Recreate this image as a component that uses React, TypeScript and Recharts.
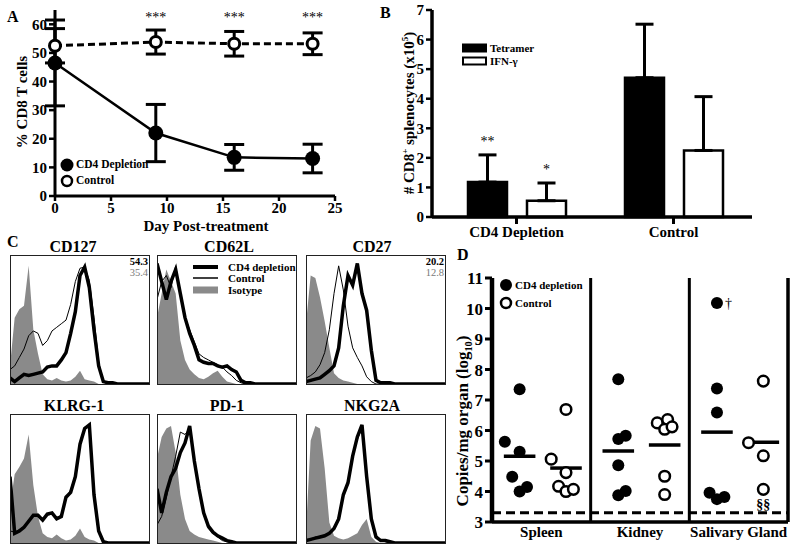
import React from "react";
import {
  ComposedChart,
  Line,
  Area,
  XAxis,
  YAxis,
  ErrorBar,
  ReferenceDot,
  BarChart,
  Bar,
  LabelList,
  ScatterChart,
  Scatter,
  ReferenceLine,
} from "recharts";

const FONT = '"Liberation Serif", "Times New Roman", Times, serif';

// ---------- A: % CD8 T cells after treatment
const days = [0, 9, 16, 23];
const cd4Pct = [46.5, 22, 13.5, 13.1];
const cd4Sem = [15, 10, 4.5, 5];
const ctrlPct = [52.5, 53.8, 53.2, 53.2];
const ctrlSem = [6, 4.2, 4.3, 3.8];
const sigA = ["", "***", "***", "***"];
const SIG_LEVEL_A = 62.5;

// ---------- B: CD8+ splenocytes (x10^5)
const groupsB = ["CD4 Depletion", "Control"];
const tetramer = [1.18, 4.71];
const tetramerErr = [0.92, 1.81];
const ifng = [0.55, 2.25];
const ifngErr = [0.6, 1.82];
const sigTet = ["**", ""];
const sigIfn = ["*", ""];

// ---------- C: histograms, % of max per bin (31 bins, log scale)
const cd127Iso = [15, 55, 62, 65, 98, 45, 25, 8, 4, 3, 5, 3, 2, 3, 6, 11, 4, 3, 2, 0, 0, 0, 0, 0, 0, 0, 0, 0, 0, 0, 0];
const cd127Ctrl = [12, 15, 22, 29, 40, 44, 42, 32, 36, 44, 47, 50, 53, 66, 85, 96, 97, 86, 55, 18, 2, 0, 0, 0, 0, 0, 0, 0, 0, 0, 0];
const cd127Cd4 = [5, 2, 5, 8, 7, 8, 9, 10, 14, 15, 15, 20, 26, 42, 60, 90, 97, 80, 45, 15, 2, 1, 1, 0, 0, 0, 0, 0, 0, 0, 0];

const cd62lIso = [55, 75, 95, 85, 75, 36, 20, 12, 8, 5, 4, 6, 9, 11, 6, 2, 1, 0, 0, 0, 0, 0, 0, 0, 0, 0, 0, 0, 0, 0, 0];
const cd62lCtrl = [70, 85, 90, 80, 98, 75, 55, 45, 35, 25, 22, 20, 18, 16, 14, 10, 7, 3, 1, 0, 0, 0, 0, 0, 0, 0, 0, 0, 0, 0, 0];
const cd62lCd4 = [100, 85, 70, 85, 95, 75, 55, 42, 32, 20, 18, 17, 17, 15, 14, 15, 12, 10, 3, 1, 1, 0, 0, 0, 0, 0, 0, 0, 0, 0, 0];

const cd27Iso = [50, 90, 88, 72, 52, 30, 9, 5, 3, 2, 1, 0, 0, 0, 0, 0, 0, 0, 0, 0, 0, 0, 0, 0, 0, 0, 0, 0, 0, 0, 0];
const cd27Ctrl = [5, 7, 10, 16, 26, 45, 75, 98, 78, 48, 30, 22, 15, 6, 2, 0, 0, 0, 0, 0, 0, 0, 0, 0, 0, 0, 0, 0, 0, 0, 0];
const cd27Cd4 = [2, 3, 4, 5, 8, 11, 15, 30, 65, 90, 82, 100, 75, 61, 28, 3, 1, 1, 1, 0, 0, 0, 0, 0, 0, 0, 0, 0, 0, 0, 0];

const klrgIso = [30, 57, 63, 70, 90, 48, 22, 8, 5, 4, 7, 4, 2, 3, 6, 12, 5, 3, 2, 0, 0, 0, 0, 0, 0, 0, 0, 0, 0, 0, 0];
const klrgCtrl = [10, 9, 11, 14, 19, 22, 24, 20, 23, 24, 21, 23, 37, 44, 57, 84, 96, 97, 42, 11, 1, 0, 0, 0, 0, 0, 0, 0, 0, 0, 0];
const klrgCd4 = [55, 8, 10, 13, 18, 23, 23, 19, 24, 25, 20, 22, 38, 42, 55, 82, 95, 98, 40, 10, 1, 0, 0, 0, 0, 0, 0, 0, 0, 0, 0];

const pd1Iso = [70, 88, 95, 97, 75, 40, 20, 10, 7, 5, 4, 3, 2, 1, 0, 0, 0, 0, 0, 0, 0, 0, 0, 0, 0, 0, 0, 0, 0, 0, 0];
const pd1Ctrl = [15, 22, 38, 55, 72, 92, 90, 95, 70, 45, 25, 12, 8, 5, 2, 1, 0, 0, 0, 0, 0, 0, 0, 0, 0, 0, 0, 0, 0, 0, 0];
const pd1Cd4 = [45, 25, 42, 55, 62, 75, 83, 97, 68, 45, 25, 14, 9, 6, 4, 2, 1, 0, 0, 0, 0, 0, 0, 0, 0, 0, 0, 0, 0, 0, 0];

const nkgIso = [10, 85, 97, 95, 62, 17, 6, 4, 3, 4, 6, 8, 15, 20, 5, 1, 0, 0, 0, 0, 0, 0, 0, 0, 0, 0, 0, 0, 0, 0, 0];
const nkgCtrl = [2, 3, 5, 5, 6, 9, 12, 22, 40, 52, 74, 86, 95, 52, 18, 4, 2, 1, 0, 0, 0, 0, 0, 0, 0, 0, 0, 0, 0, 0, 0];
const nkgCd4 = [2, 3, 4, 5, 6, 8, 12, 20, 40, 50, 72, 88, 98, 55, 20, 5, 2, 2, 1, 0, 0, 0, 0, 0, 0, 0, 0, 0, 0, 0, 0];

// ---------- D: viral copies / mg organ (log10)
const organs = ["Spleen", "Kidney", "Salivary Gland"];
const spleenCd4 = [5.63, 7.35, 5.3, 4.48, 4.0, 4.15];
const spleenCtrl = [5.06, 6.69, 4.62, 4.17, 4.0, 4.07];
const kidneyCd4 = [7.68, 5.72, 5.83, 4.86, 3.88, 4.02];
const kidneyCtrl = [6.25, 6.36, 6.04, 6.12, 4.5, 3.9];
const sgCd4 = [10.18, 7.38, 6.59, 3.96, 3.75, 3.82];
const sgCtrl = [5.6, 7.62, 5.17, 4.07];
// side-by-side slots for overlapping dots
const spleenCd4Slot = [-2, 0, 0, -1, 0, 1];
const spleenCtrlSlot = [-2, 0, 0, -1, 0, 1];
const kidneyCd4Slot = [0, 0, 1, 0, 0, 1];
const kidneyCtrlSlot = [-1, 0.4, 0, 1, 0, 0];
const sgCd4Slot = [0, 0, 0, -1, 0, 1];
const sgCtrlSlot = [-2, 0, 0, 0];
const sgCd4Note = ["†", "", "", "", "", ""];
const LOD = 3.3;

const tk = (size: number, weight = 700) => ({ fill: "#000", fontSize: size, fontWeight: weight, fontFamily: FONT });
const ln = (w: number) => ({ stroke: "#000", strokeWidth: w });

function Txt({ x, y, size, children, color = "#000", weight = 700, align = "left" }: any) {
  const tx = align === "center" ? "translateX(-50%)" : align === "right" ? "translateX(-100%)" : undefined;
  return (
    <div style={{ position: "absolute", left: x, top: y, fontSize: size, fontWeight: weight, color, lineHeight: 1, whiteSpace: "nowrap", transform: tx }}>
      {children}
    </div>
  );
}

function VTxt({ cx, cy, size, children }: any) {
  return (
    <div style={{ position: "absolute", left: cx, top: cy, fontSize: size, fontWeight: 700, lineHeight: 1, whiteSpace: "nowrap", transform: "translate(-50%,-50%) rotate(-90deg)" }}>
      {children}
    </div>
  );
}

function LegendRow({ x, y, h, iconW, gap, icon, label, size }: any) {
  return (
    <div style={{ position: "absolute", left: x, top: y, height: h, display: "flex", alignItems: "center", fontSize: size, fontWeight: 700, lineHeight: 1, whiteSpace: "nowrap" }}>
      <svg width={iconW} height={h} style={{ display: "block" }}>{icon(iconW, h)}</svg>
      <span style={{ marginLeft: gap }}>{label}</span>
    </div>
  );
}

const filledDot = (r: number) => (p: any) => <circle key={`f${p.index}`} cx={p.cx} cy={p.cy} r={r} fill="#000" />;
const openDot = (r: number, sw: number) => (p: any) => (
  <circle key={`o${p.index}`} cx={p.cx} cy={p.cy} r={r} fill="#fff" stroke="#000" strokeWidth={sw} strokeDasharray="none" />
);

function PanelA() {
  const data = days.map((d, i) => ({
    day: d,
    cd4: cd4Pct[i],
    cd4Err: [cd4Sem[i], cd4Sem[i]],
    ctrl: ctrlPct[i],
    ctrlErr: [ctrlSem[i], ctrlSem[i]],
  }));
  return (
    <ComposedChart width={345} height={240} data={data} margin={{ top: 10, right: 10, left: 0, bottom: 0 }}>
      <XAxis dataKey="day" type="number" domain={[0, 25]} ticks={[0, 5, 10, 15, 20, 25]} interval={0} height={44}
        tick={tk(15)} tickSize={5} tickMargin={1} axisLine={ln(3)} tickLine={ln(2.5)} />
      <YAxis type="number" domain={[0, 65]} ticks={[0, 10, 20, 30, 40, 50, 60]} interval={0} width={55}
        tick={tk(15)} tickSize={6} tickMargin={2} axisLine={ln(3)} tickLine={ln(2.5)} />
      <Line type="linear" dataKey="ctrl" stroke="#000" strokeWidth={3} strokeDasharray="7 4" dot={openDot(5.5, 3)} isAnimationActive={false}>
        <ErrorBar dataKey="ctrlErr" width={10} stroke="#000" strokeWidth={3} />
      </Line>
      <Line type="linear" dataKey="cd4" stroke="#000" strokeWidth={2.5} dot={filledDot(7.5)} isAnimationActive={false}>
        <ErrorBar dataKey="cd4Err" width={10} stroke="#000" strokeWidth={3} />
      </Line>
      {days.map((d, i) =>
        sigA[i] ? (
          <ReferenceDot key={d} x={d} y={SIG_LEVEL_A} r={0} fill="none" stroke="none"
            label={{ value: sigA[i], position: "center", fill: "#000", fontSize: 14, fontFamily: FONT }} />
        ) : null
      )}
    </ComposedChart>
  );
}

const sigLabel = (vals: number[], errs: number[]) => (props: any) => {
  const vb = props.viewBox ?? props;
  const { x, y, width, height } = vb;
  const idx = props.index ?? 0;
  if (!props.value) return null;
  const pxPerUnit = height / vals[idx];
  const top = y - errs[idx] * pxPerUnit;
  return (
    <text x={x + width / 2} y={top - 9} textAnchor="middle" fontSize={14} fontFamily={FONT} fill="#000">
      {props.value}
    </text>
  );
};

function PanelB() {
  const data = groupsB.map((g, i) => ({
    group: g,
    tet: tetramer[i],
    tetErr: [0, tetramerErr[i]],
    tetSig: sigTet[i],
    ifn: ifng[i],
    ifnErr: [0, ifngErr[i]],
    ifnSig: sigIfn[i],
  }));
  return (
    <BarChart width={380} height={250} data={data} margin={{ top: 10, right: 8, left: 0, bottom: 0 }} barGap={20}>
      <XAxis dataKey="group" height={33} padding={{ left: 6, right: 0 }} tick={tk(15)} tickSize={7} tickMargin={2}
        axisLine={ln(3.5)} tickLine={ln(3)} interval={0} />
      <YAxis type="number" domain={[0, 7]} ticks={[0, 1, 2, 3, 4, 5, 6, 7]} interval={0} width={52}
        tick={tk(15)} tickSize={6} tickMargin={2} axisLine={ln(3.5)} tickLine={ln(2.5)} />
      <Bar dataKey="tet" fill="#000" stroke="#000" strokeWidth={2.5} barSize={39} isAnimationActive={false}>
        <ErrorBar dataKey="tetErr" width={9} stroke="#000" strokeWidth={3} />
        <LabelList dataKey="tetSig" content={sigLabel(tetramer, tetramerErr)} />
      </Bar>
      <Bar dataKey="ifn" fill="#fff" stroke="#000" strokeWidth={2.5} barSize={39} isAnimationActive={false}>
        <ErrorBar dataKey="ifnErr" width={9} stroke="#000" strokeWidth={3} />
        <LabelList dataKey="ifnSig" content={sigLabel(ifng, ifngErr)} />
      </Bar>
    </BarChart>
  );
}

const BINS = Array.from({ length: 31 }, (_, i) => i);
const DECADE = 7.5;
const logTicks: number[] = [];
for (let d = 0; d < 4; d++) for (let k = 1; k <= 9; k++) logTicks.push(d * DECADE + Math.log10(k) * DECADE);
logTicks.push(30);

function Histo({ iso, ctrl, cd4, left, top }: any) {
  const rows = BINS.map((i) => ({ i, iso: iso[i], ctrl: ctrl[i], cd4: cd4[i] }));
  return (
    <div style={{ position: "absolute", left, top, width: 140, height: 130 }}>
      <ComposedChart width={140} height={130} data={rows} margin={{ top: 0, right: 0, bottom: 1, left: 0 }}>
        <XAxis dataKey="i" type="number" domain={[0, 30]} ticks={logTicks} interval={0} tick={false} tickSize={3}
          mirror height={0} axisLine={false} tickLine={ln(0.8)} />
        <YAxis type="number" domain={[0, 107]} ticks={[10, 20, 30, 40, 50, 60, 70, 80, 90, 100]} interval={0}
          tick={false} tickSize={3} mirror width={0} axisLine={false} tickLine={ln(0.8)} />
        <Area type="linear" dataKey="iso" stroke="none" fill="#8a8a8a" fillOpacity={1} isAnimationActive={false} />
        <Line type="linear" dataKey="ctrl" stroke="#000" strokeWidth={1} dot={false} isAnimationActive={false} />
        <Line type="linear" dataKey="cd4" stroke="#000" strokeWidth={3.5} dot={false} isAnimationActive={false} />
      </ComposedChart>
      <div style={{ position: "absolute", left: 0, top: 0, width: 140, height: 130, border: "1px solid #222", boxSizing: "border-box", pointerEvents: "none" }} />
    </div>
  );
}

const CD4_POS = 0.28;
const CTRL_POS = 0.75;
const JIT = 0.075;
const MEAN_HALF = 0.16;

function PanelD() {
  const cd4Sets = [
    [spleenCd4, spleenCd4Slot],
    [kidneyCd4, kidneyCd4Slot],
    [sgCd4, sgCd4Slot],
  ] as const;
  const ctrlSets = [
    [spleenCtrl, spleenCtrlSlot],
    [kidneyCtrl, kidneyCtrlSlot],
    [sgCtrl, sgCtrlSlot],
  ] as const;
  const cd4Pts = cd4Sets.flatMap(([vals, slots], g) =>
    vals.map((v, k) => ({ x: g + CD4_POS + slots[k] * JIT, y: v, note: g === 2 ? sgCd4Note[k] : "" }))
  );
  const ctrlPts = ctrlSets.flatMap(([vals, slots], g) => vals.map((v, k) => ({ x: g + CTRL_POS + slots[k] * JIT, y: v })));
  const notes = cd4Pts.filter((p) => p.note);
  const mean = (a: readonly number[]) => a.reduce((s, v) => s + v, 0) / a.length;
  const means = [
    ...cd4Sets.map(([vals], g) => ({ c: g + CD4_POS, m: mean(vals) })),
    ...ctrlSets.map(([vals], g) => ({ c: g + CTRL_POS, m: mean(vals) })),
  ];
  return (
    <ScatterChart width={395} height={290} margin={{ top: 18, right: 7, left: 0, bottom: 0 }}>
      <XAxis dataKey="x" type="number" domain={[0, 3]} ticks={[0.5, 1.5, 2.5]} interval={0}
        tickFormatter={(v: number) => organs[Math.floor(v)]} height={28} tick={tk(15)} tickSize={2} tickMargin={2}
        axisLine={ln(3.5)} tickLine={false} />
      <YAxis dataKey="y" type="number" domain={[3, 11]} ticks={[3, 4, 5, 6, 7, 8, 9, 10, 11]} interval={0} width={92}
        tick={tk(17)} tickSize={7} tickMargin={2} axisLine={ln(4.5)} tickLine={ln(3)} />
      <ReferenceLine x={1} stroke="#000" strokeWidth={3} />
      <ReferenceLine x={2} stroke="#000" strokeWidth={3} />
      <ReferenceLine x={3} stroke="#000" strokeWidth={3.5} />
      <ReferenceLine y={LOD} stroke="#000" strokeWidth={3} strokeDasharray="9 5" />
      {means.map((m, i) => (
        <ReferenceLine key={i} segment={[{ x: m.c - MEAN_HALF, y: m.m }, { x: m.c + MEAN_HALF, y: m.m }]} stroke="#000" strokeWidth={3.5} />
      ))}
      <Scatter data={cd4Pts} isAnimationActive={false} fill="#000" shape={(p: any) => <circle cx={p.cx} cy={p.cy} r={6} fill="#000" />} />
      <Scatter data={ctrlPts} isAnimationActive={false} fill="#fff"
        shape={(p: any) => <circle cx={p.cx} cy={p.cy} r={5.3} fill="#fff" stroke="#000" strokeWidth={2.5} />} />
      {notes.map((p, i) => (
        <ReferenceDot key={`n${i}`} x={p.x} y={p.y} r={0} fill="none" stroke="none"
          label={{ value: p.note, position: "right", offset: 8, fill: "#000", fontSize: 14, fontFamily: FONT }} />
      ))}
      <ReferenceDot x={2 + CTRL_POS} y={3.58} r={0} fill="none" stroke="none"
        label={{ value: "§§", position: "center", fill: "#000", fontSize: 14, fontWeight: 700, fontFamily: FONT }} />
    </ScatterChart>
  );
}

export default function App() {
  const histTop = 255;
  const histBot = 414;
  return (
    <div style={{ position: "absolute", left: 0, top: 0, width: 800, height: 554, background: "#fff", fontFamily: FONT, color: "#000", overflow: "hidden" }}>
      {/* A */}
      <div style={{ position: "absolute", left: 0, top: 0 }}><PanelA /></div>
      <Txt x={7} y={9} size={16}>A</Txt>
      <VTxt cx={22} cy={102} size={15}>% CD8 T cells</VTxt>
      <Txt x={206} y={219} size={15} align="center">Day Post-treatment</Txt>
      <LegendRow x={59} y={157} h={16} iconW={16} gap={1} size={11.5} label="CD4 Depletion"
        icon={(w: number, h: number) => <circle cx={w / 2} cy={h / 2} r={6.5} fill="#000" />} />
      <LegendRow x={59} y={173} h={16} iconW={16} gap={1} size={11.5} label="Control"
        icon={(w: number, h: number) => <circle cx={w / 2} cy={h / 2} r={5} fill="#fff" stroke="#000" strokeWidth={2.5} />} />

      {/* B */}
      <div style={{ position: "absolute", left: 380, top: 0 }}><PanelB /></div>
      <Txt x={380} y={5} size={16}>B</Txt>
      <VTxt cx={409} cy={113} size={15}>
        # CD8<sup style={{ fontSize: "0.6em" }}>+</sup> splenocytes (x10<sup style={{ fontSize: "0.6em" }}>5</sup>)
      </VTxt>
      <LegendRow x={462} y={41} h={14} iconW={25} gap={3} size={11} label="Tetramer"
        icon={(w: number, h: number) => <rect x={0} y={h / 2 - 4.5} width={w} height={9} fill="#000" />} />
      <LegendRow x={462} y={54} h={14} iconW={25} gap={3} size={11} label="IFN-γ"
        icon={(w: number, h: number) => <rect x={1} y={h / 2 - 3.5} width={w - 2} height={7} fill="#fff" stroke="#000" strokeWidth={2} />} />

      {/* C */}
      <Txt x={7} y={234} size={16}>C</Txt>
      <Histo iso={cd127Iso} ctrl={cd127Ctrl} cd4={cd127Cd4} left={10} top={histTop} />
      <Histo iso={cd62lIso} ctrl={cd62lCtrl} cd4={cd62lCd4} left={157} top={histTop} />
      <Histo iso={cd27Iso} ctrl={cd27Ctrl} cd4={cd27Cd4} left={306} top={histTop} />
      <Histo iso={klrgIso} ctrl={klrgCtrl} cd4={klrgCd4} left={10} top={histBot} />
      <Histo iso={pd1Iso} ctrl={pd1Ctrl} cd4={pd1Cd4} left={157} top={histBot} />
      <Histo iso={nkgIso} ctrl={nkgCtrl} cd4={nkgCd4} left={306} top={histBot} />
      <Txt x={73} y={239} size={16} align="center">CD127</Txt>
      <Txt x={229} y={239} size={16} align="center">CD62L</Txt>
      <Txt x={372} y={239} size={16} align="center">CD27</Txt>
      <Txt x={74} y={398} size={16} align="center">KLRG-1</Txt>
      <Txt x={227} y={398} size={16} align="center">PD-1</Txt>
      <Txt x={372} y={398} size={16} align="center">NKG2A</Txt>
      <Txt x={148} y={257} size={10.5} align="right">54.3</Txt>
      <Txt x={148} y={268} size={10.5} align="right" weight={400} color="#7a7a7a">35.4</Txt>
      <Txt x={444} y={257} size={10.5} align="right">20.2</Txt>
      <Txt x={444} y={268} size={10.5} align="right" weight={400} color="#7a7a7a">12.8</Txt>
      <LegendRow x={193} y={261} h={12} iconW={25} gap={10} size={11} label="CD4 depletion"
        icon={(w: number, h: number) => <line x1={0} x2={w} y1={h / 2} y2={h / 2} stroke="#000" strokeWidth={4} />} />
      <LegendRow x={193} y={272} h={12} iconW={25} gap={10} size={11} label="Control"
        icon={(w: number, h: number) => <line x1={0} x2={w} y1={h / 2} y2={h / 2} stroke="#000" strokeWidth={1.5} />} />
      <LegendRow x={193} y={284} h={12} iconW={25} gap={10} size={11} label="Isotype"
        icon={(w: number, h: number) => <rect x={0} y={h / 2 - 3.5} width={w} height={7} fill="#8a8a8a" />} />

      {/* D */}
      <div style={{ position: "absolute", left: 400, top: 260 }}><PanelD /></div>
      <Txt x={457} y={247} size={16}>D</Txt>
      <VTxt cx={464} cy={421} size={17}>
        Copies/mg organ (log<sub style={{ fontSize: "0.6em" }}>10</sub>)
      </VTxt>
      <LegendRow x={498} y={277} h={16} iconW={16} gap={1} size={11} label="CD4 depletion"
        icon={(w: number, h: number) => <circle cx={w / 2} cy={h / 2} r={6} fill="#000" />} />
      <LegendRow x={498} y={295} h={16} iconW={16} gap={1} size={11} label="Control"
        icon={(w: number, h: number) => <circle cx={w / 2} cy={h / 2} r={5} fill="#fff" stroke="#000" strokeWidth={2.5} />} />
    </div>
  );
}
